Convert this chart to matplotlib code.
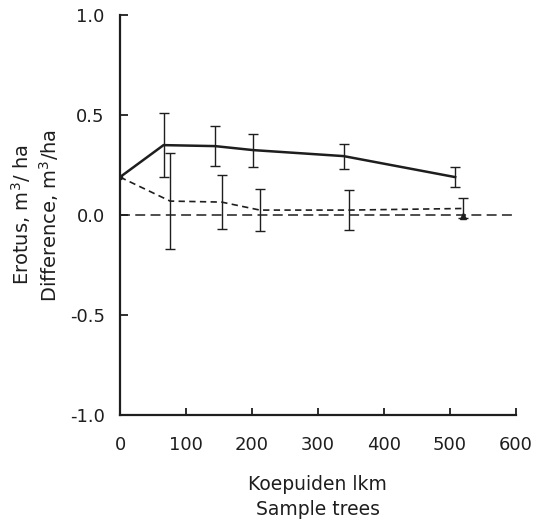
import matplotlib
matplotlib.use("Agg")
import matplotlib.pyplot as plt

# Sample-tree counts and mean differences (m3/ha) with error bar half-widths
solid_x = [0, 66, 144, 202, 339, 508]
solid_y = [0.19, 0.35, 0.345, 0.325, 0.295, 0.19]
solid_err = [0.0, 0.16, 0.10, 0.083, 0.062, 0.05]

dashed_x = [0, 76, 154, 212, 347, 520]
dashed_y = [0.19, 0.07, 0.065, 0.025, 0.025, 0.033]
dashed_err = [0.0, 0.24, 0.135, 0.107, 0.10, 0.05]

x_ticks = [0, 100, 200, 300, 400, 500, 600]
y_ticks = [-1.0, -0.5, 0.0, 0.5, 1.0]

plt.rcParams['font.family'] = ['DejaVu Sans']
fig = plt.figure(figsize=(5.43, 5.23), dpi=100)
ax = fig.add_axes([0.221, 0.2065, 0.729, 0.7645])

ink = '#1e1e1e'

# zero reference line
ax.plot([0, 595], [0, 0], color=ink, lw=1.1, dashes=(6.5, 3.5))

# solid series with error bars
ax.plot(solid_x, solid_y, color=ink, lw=1.8, solid_joinstyle='miter')
ax.errorbar(solid_x[1:], solid_y[1:], yerr=solid_err[1:], fmt='none',
            ecolor=ink, elinewidth=1.0, capsize=3.5, capthick=1.0)
ax.plot([0], [solid_y[0]], 'o', color=ink, ms=3)

# dashed series with error bars
ax.plot(dashed_x, dashed_y, color=ink, lw=1.2, dashes=(3.8, 2.6))
ax.errorbar(dashed_x[1:], dashed_y[1:], yerr=dashed_err[1:], fmt='none',
            ecolor=ink, elinewidth=1.0, capsize=3.5, capthick=1.0)
ax.plot([dashed_x[-1]], [dashed_y[-1] - dashed_err[-1] + 0.01], '^',
        color=ink, ms=4)

ax.set_xlim(0, 600)
ax.set_ylim(-1.0, 1.0)
ax.set_xticks(x_ticks)
ax.set_yticks(y_ticks)
ax.set_xticklabels([str(v) for v in x_ticks])
ax.set_yticklabels([f"{v:.1f}" for v in y_ticks])

for side in ('top', 'right'):
    ax.spines[side].set_visible(False)
for side in ('left', 'bottom'):
    ax.spines[side].set_linewidth(1.6)
    ax.spines[side].set_color(ink)

ax.tick_params(axis='y', direction='in', length=6, width=1.3, color=ink,
               labelsize=13, pad=11, labelcolor=ink)
ax.tick_params(axis='x', direction='in', length=5, width=1.3, color=ink,
               labelsize=13, pad=15, labelcolor=ink)

ax.set_xlabel("Koepuiden lkm\nSample trees", fontsize=13.5, color=ink,
              labelpad=15, linespacing=1.45)
ax.set_ylabel("Erotus, m$^3$/ ha\nDifference, m$^3$/ha", fontsize=14,
              color=ink, labelpad=6, linespacing=1.25)

fig.savefig("out.png", dpi=100)
